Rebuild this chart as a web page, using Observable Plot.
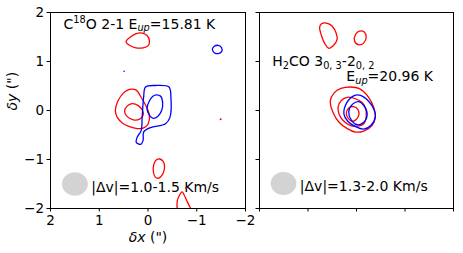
<!DOCTYPE html>
<html>
<head>
<meta charset="utf-8">
<script src="https://cdn.jsdelivr.net/npm/d3@7"></script>
<script src="https://cdn.jsdelivr.net/npm/@observablehq/plot@0.6"></script>
<style>
  html, body { margin: 0; padding: 0; background: #fff; }
  #chart { position: relative; width: 463px; height: 253px; overflow: hidden; }
  #chart svg { position: absolute; top: 0; overflow: visible; }
</style>
</head>
<body>
<div id="chart"></div>
<script>
// ---- axis ticks ----
const xTicks = [2, 1, 0, -1, -2];
const yTicks = [-2, -1, 0, 1, 2];

// ---- Panel 1: C18O 2-1 contours (δx, δy in arcsec) ----
const c18oRedOuter = [[0.67,0.0],[0.62,0.19],[0.5,0.36],[0.38,0.43],[0.25,0.42],[0.13,0.25],[0.03,0.07],[-0.03,-0.1],[0.0,-0.28],[0.1,-0.36],[0.22,-0.37],[0.38,-0.33],[0.52,-0.26],[0.63,-0.14]];
const c18oRedInner = [[0.48,-0.02],[0.43,0.09],[0.32,0.14],[0.2,0.10],[0.11,0.0],[0.1,-0.1],[0.18,-0.18],[0.3,-0.19],[0.43,-0.12]];
const c18oRedNorth = [[0.45,1.41],[0.36,1.5],[0.24,1.57],[0.12,1.58],[0.02,1.53],[-0.03,1.42],[0.0,1.32],[0.1,1.28],[0.25,1.28],[0.38,1.33]];
const c18oRedSouth = [[-0.24,-0.99],[-0.31,-1.04],[-0.34,-1.15],[-0.31,-1.28],[-0.22,-1.38],[-0.15,-1.36],[-0.11,-1.25],[-0.12,-1.1],[-0.17,-1.01]];
const c18oRedEdge = [[-0.6,-2.05],[-0.6,-1.85],[-0.64,-1.74],[-0.7,-1.66],[-0.74,-1.72],[-0.8,-1.85],[-0.9,-2.05]];
const c18oBlueOuter = [[0.05,0.48],[-0.15,0.51],[-0.43,0.48],[-0.47,0.27],[-0.45,-0.14],[-0.36,-0.27],[-0.05,-0.35],[0.09,-0.44],[0.10,-0.61],[0.15,-0.69],[0.24,-0.65],[0.22,-0.54],[0.14,-0.41],[0.12,-0.14],[0.09,0.27]];
const c18oBlueInner = [[-0.17,0.32],[-0.26,0.29],[-0.3,0.16],[-0.28,0.0],[-0.2,-0.12],[-0.11,-0.16],[-0.03,-0.1],[0.02,0.04],[-0.03,0.2],[-0.1,0.29]];
const c18oBlueNE = [[-1.32,1.25],[-1.36,1.31],[-1.44,1.33],[-1.51,1.28],[-1.51,1.2],[-1.44,1.16],[-1.36,1.18]];
const c18oRedDots = [[-1.49,-0.18],[-0.78,-1.58]];
const c18oBlueDots = [[0.49,0.80]];

// ---- Panel 2: H2CO 3(0,3)-2(0,2) contours ----
const h2coRedNorthA = [[0.76,1.70],[0.72,1.77],[0.6,1.78],[0.5,1.72],[0.42,1.58],[0.40,1.45],[0.48,1.32],[0.57,1.27],[0.65,1.36],[0.72,1.52]];
const h2coRedNorthB = [[0.04,1.42],[0.02,1.55],[-0.06,1.62],[-0.16,1.6],[-0.2,1.5],[-0.15,1.38],[-0.05,1.34]];
const h2coRedOuter = [[0.54,0.20],[0.46,0.36],[0.32,0.45],[0.12,0.48],[-0.05,0.45],[-0.25,0.27],[-0.36,0.05],[-0.39,-0.12],[-0.32,-0.31],[-0.15,-0.42],[0.02,-0.44],[0.19,-0.37],[0.35,-0.25],[0.48,-0.05]];
const h2coRedMid = [[0.38,0.07],[0.31,0.21],[0.19,0.27],[0.05,0.25],[-0.12,0.16],[-0.19,0.04],[-0.2,-0.12],[-0.15,-0.27],[0.0,-0.32],[0.12,-0.31],[0.28,-0.2],[0.36,-0.07]];
const h2coRedInner = [[0.21,-0.06],[0.16,0.05],[0.06,0.08],[-0.03,0.02],[-0.05,-0.08],[0.0,-0.18],[0.09,-0.22],[0.17,-0.16]];
const h2coBlueOuter = [[0.26,-0.07],[0.2,0.16],[0.06,0.3],[-0.08,0.31],[-0.25,0.19],[-0.36,0.02],[-0.39,-0.12],[-0.3,-0.3],[-0.15,-0.38],[0.02,-0.33],[0.18,-0.22]];
const h2coBlueInner = [[0.16,-0.03],[0.08,0.13],[-0.05,0.18],[-0.15,0.1],[-0.22,-0.07],[-0.15,-0.24],[-0.01,-0.29],[0.11,-0.19]];

// ---- beam (center, semi-axes in arcsec) ----
const beam1 = {x: 1.50, y: -1.50, a: 0.265, b: 0.238};
const beam2 = {x: 1.505, y: -1.49, a: 0.265, b: 0.235};

// ---- annotations ----
const labels1 = [
  {x: 1.733, y: 1.673, text: "C18O 2-1 Eup=15.81 K"},
  {x: 1.165, y: -1.663, text: "|Δv|=1.0-1.5 Km/s"}
];
const labels2 = [
  {x: 1.738, y: 0.905, text: "H2CO 30,3-20,2"},
  {x: 0.210, y: 0.600, text: "Eup=20.96 K"},
  {x: 1.169, y: -1.647, text: "|Δv|=1.3-2.0 Km/s"}
];

// rich-text recipes (super/subscripts, italics)
const rich = {
  "C18O 2-1 Eup=15.81 K": [["C"],["18","sup"],["O 2-1 E"],["up","subit"],["=15.81 K"]],
  "H2CO 30,3-20,2": [["H"],["2","sub"],["CO 3"],["0, 3","sub"],["-2"],["0, 2","sub"]],
  "Eup=20.96 K": [["E"],["up","subit"],["=20.96 K"]],
  "δx (\")": [["δx","it"],[" (\")"]],
  "δy (\")": [["δy","it"],[" (\")"]]
};

const toRows = (id, pts) => pts.map(([x, y]) => ({id, x, y}));
const beamRows = (b) => d3.range(0, 64).map(i => {
  const t = (i / 64) * 2 * Math.PI;
  return {x: b.x + b.a * Math.cos(t), y: b.y + b.b * Math.sin(t)};
});

const FONT = "DejaVu Sans, sans-serif";
const fmt = d3.format("d");

function panel({width, marginLeft, marginRight, showLabels, red, blue, redOpen, redDots, blueDots, beam, labels}) {
  const marks = [
    Plot.line(beamRows(beam), {x: "x", y: "y", fill: "#d3d3d3", stroke: "none", curve: "linear-closed"}),
    Plot.line(red, {x: "x", y: "y", z: "id", stroke: "red", strokeWidth: 1.3, curve: "catmull-rom-closed", clip: true}),
    Plot.line(blue, {x: "x", y: "y", z: "id", stroke: "blue", strokeWidth: 1.3, curve: "catmull-rom-closed", clip: true}),
    Plot.axisX({ticks: xTicks, tickSize: 3.5, tickPadding: 3.5, tickFormat: showLabels ? fmt : () => "", label: null, fontSize: 13.5}),
    Plot.axisY({ticks: yTicks, tickSize: 3.5, tickPadding: 3, tickFormat: showLabels ? fmt : () => "", label: null, fontSize: 13.5}),
    Plot.frame({stroke: "black", strokeWidth: 1}),
    Plot.text(labels, {x: "x", y: "y", text: "text", textAnchor: "start", lineAnchor: "bottom", fontSize: 14, fill: "black"})
  ];
  if (redOpen) marks.push(Plot.line(redOpen, {x: "x", y: "y", z: "id", stroke: "red", strokeWidth: 1.3, curve: "catmull-rom", clip: true}));
  if (redDots) marks.push(Plot.dot(redDots, {x: d => d[0], y: d => d[1], r: 1, fill: "red", stroke: "none"}));
  if (blueDots) marks.push(Plot.dot(blueDots, {x: d => d[0], y: d => d[1], r: 0.8, fill: "blue", stroke: "none"}));
  if (showLabels) {
    marks.push(Plot.text(["δx (\")"], {frameAnchor: "bottom", dy: 33, lineAnchor: "bottom", fontSize: 14, fill: "black"}));
    marks.push(Plot.text(["δy (\")"], {frameAnchor: "left", dx: -37.5, rotate: -90, fontSize: 14, fill: "black"}));
  }
  return Plot.plot({
    width, height: 253,
    marginTop: 12, marginBottom: 45, marginLeft, marginRight,
    style: {background: "transparent", fontFamily: FONT, fontSize: "13.5px", color: "black", overflow: "visible"},
    x: {domain: [2, -2], label: null},
    y: {domain: [-2, 2], label: null},
    marks
  });
}

function applyRich(svg) {
  d3.select(svg).selectAll("text").each(function () {
    if (this.querySelector("tspan")) return;
    const recipe = rich[this.textContent];
    if (!recipe) return;
    const fs = parseFloat(getComputedStyle(this).fontSize) || 14;
    const sel = d3.select(this);
    sel.text(null);
    let shift = 0;
    for (const [s, kind] of recipe) {
      const target = kind === "sup" ? -0.42 * fs : (kind === "sub" || kind === "subit") ? 0.18 * fs : 0;
      const t = sel.append("tspan").text(s);
      if (target !== shift) t.attr("dy", target - shift);
      shift = target;
      if (kind === "sup" || kind === "sub" || kind === "subit") t.attr("font-size", (0.7 * fs) + "px");
      if (kind === "it" || kind === "subit") t.attr("font-style", "italic");
    }
  });
}

const p1 = panel({
  width: 250, marginLeft: 50, marginRight: 5, showLabels: true,
  red: [...toRows("ro", c18oRedOuter), ...toRows("ri", c18oRedInner), ...toRows("rn", c18oRedNorth), ...toRows("rs", c18oRedSouth)],
  blue: [...toRows("bo", c18oBlueOuter), ...toRows("bi", c18oBlueInner), ...toRows("bne", c18oBlueNE)],
  redOpen: toRows("re", c18oRedEdge),
  redDots: c18oRedDots, blueDots: c18oBlueDots,
  beam: beam1, labels: labels1
});
const p2 = panel({
  width: 223, marginLeft: 19, marginRight: 10, showLabels: false,
  red: [...toRows("na", h2coRedNorthA), ...toRows("nb", h2coRedNorthB), ...toRows("ro", h2coRedOuter), ...toRows("rm", h2coRedMid), ...toRows("ri", h2coRedInner)],
  blue: [...toRows("bo", h2coBlueOuter), ...toRows("bi", h2coBlueInner)],
  beam: beam2, labels: labels2
});
p1.style.left = "0px";
p2.style.left = "240px";
const chart = document.getElementById("chart");
chart.appendChild(p1);
chart.appendChild(p2);
applyRich(p1);
applyRich(p2);
</script>
</body>
</html>
